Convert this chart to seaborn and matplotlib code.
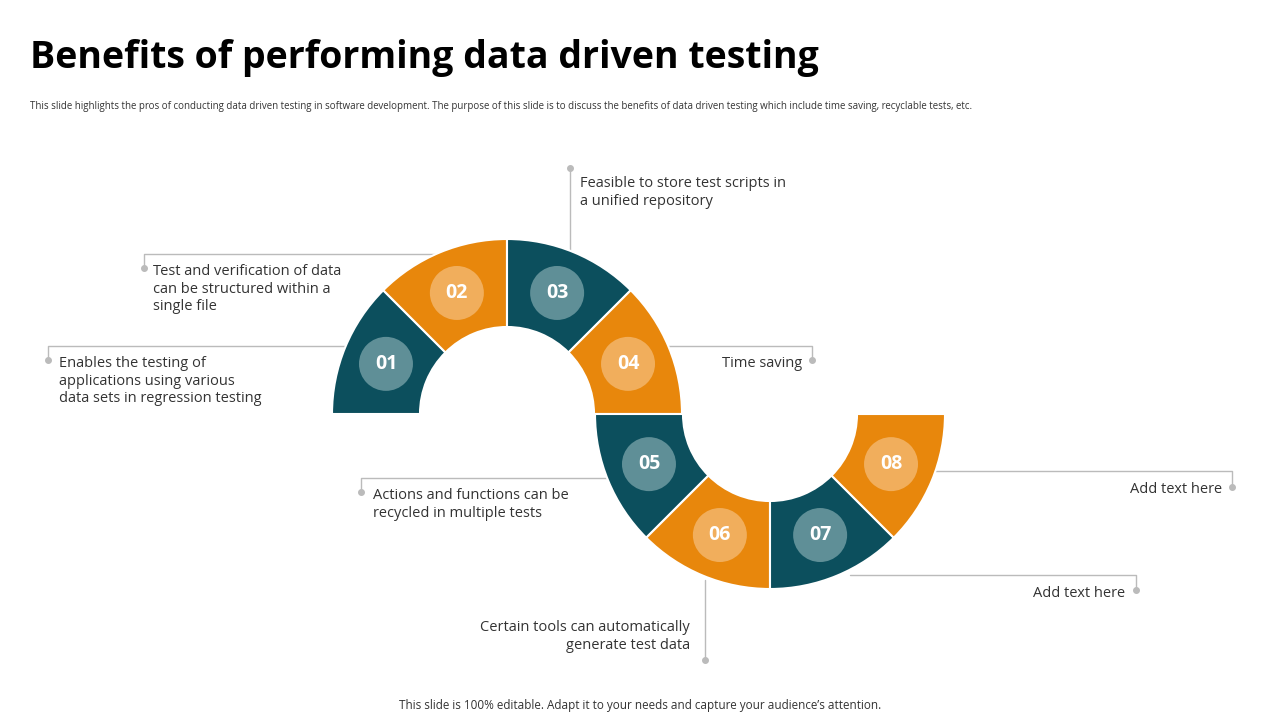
import matplotlib
matplotlib.use('Agg')
import matplotlib.pyplot as plt
from matplotlib.patches import Wedge, Circle
import seaborn as sns
import numpy as np

sns.set_theme(style='white')
plt.rcParams['font.family'] = 'Open Sans'

# ---- data ----
numbers = ['01', '02', '03', '04', '05', '06', '07', '08']
texts = [
    'Enables the testing of\napplications using various\ndata sets in regression testing',
    'Test and verification of data\ncan be structured within a\nsingle file',
    'Feasible to store test scripts in\na unified repository',
    'Time saving',
    'Actions and functions can be\nrecycled in multiple tests',
    'Certain tools can automatically\ngenerate test data',
    'Add text here',
    'Add text here',
]
title = 'Benefits of performing data driven testing'
subtitle = ('This slide highlights the pros of conducting data driven testing in software development. '
            'The purpose of this slide is to discuss the benefits of data driven testing which include '
            'time saving, recyclable tests, etc.')
footer = 'This slide is 100% editable. Adapt it to your needs and capture your audience\u2019s attention.'

TEAL, TEAL_L = '#0C4F5D', '#5F8F97'
ORANGE, ORANGE_L = '#E8870C', '#F1AE5C'
LINE = '#BBBBBB'

H = 720
fig = plt.figure(figsize=(12.8, 7.2), dpi=100)
ax = fig.add_axes([0, 0, 1, 1])
ax.set_xlim(0, 1280)
ax.set_ylim(0, H)
ax.axis('off')

def Y(py):
    return H - py

R_OUT, R_IN = 175, 87
centers = [(507, Y(414))] * 4 + [(770, Y(414))] * 4
starts = [135, 90, 45, 0, 180, 225, 270, 315]
for i, num in enumerate(numbers):
    cx, cy = centers[i]
    a0 = starts[i]
    dark = TEAL if i % 2 == 0 else ORANGE
    light = TEAL_L if i % 2 == 0 else ORANGE_L
    ax.add_patch(Wedge((cx, cy), R_OUT, a0, a0 + 45, width=R_OUT - R_IN,
                       facecolor=dark, edgecolor='white', linewidth=1.5))
    mid = np.radians(a0 + 22.5)
    rm = (R_OUT + R_IN) / 2
    px, py = cx + rm * np.cos(mid), cy + rm * np.sin(mid)
    ax.add_patch(Circle((px, py), 27, facecolor=light, edgecolor='none'))
    ax.text(px, py, num, ha='center', va='center', color='white',
            fontsize=14, fontweight='bold')

# connectors: list of polyline points (pixel coords), dot is last point
connectors = [
    [(345, 346), (48, 346), (48, 360)],
    [(440, 254), (144, 254), (144, 268)],
    [(570, 250), (570, 168)],
    [(668, 346), (812, 346), (812, 360)],
    [(610, 478), (361, 478), (361, 492)],
    [(705, 580), (705, 660)],
    [(850, 575), (1136, 575), (1136, 590)],
    [(935, 471), (1232, 471), (1232, 487)],
]
text_pos = [(59, 356, 'left'), (153, 264, 'left'), (580, 176, 'left'), (802, 356, 'right'),
            (373, 488, 'left'), (690, 620, 'right'), (1125, 586, 'right'), (1222, 482, 'right')]
for pts, (tx, ty, ha), t in zip(connectors, text_pos, texts):
    xs = [p[0] for p in pts]
    ys = [Y(p[1]) for p in pts]
    ax.plot(xs, ys, color=LINE, linewidth=1, zorder=0)
    ax.plot(xs[-1], ys[-1], 'o', color=LINE, markersize=4)
    ax.text(tx, Y(ty), t, ha=ha, va='top', fontsize=10.5, color='#333333',
            linespacing=1.25, multialignment=ha)

ax.text(30, Y(58), title, fontsize=27, fontweight='bold', color='black', va='center')
ax.text(30, Y(107), subtitle, fontsize=7, color='#333333', va='center')
ax.text(640, Y(706), footer, fontsize=8.5, color='#333333', ha='center', va='center')

fig.savefig('out.png', dpi=100)
